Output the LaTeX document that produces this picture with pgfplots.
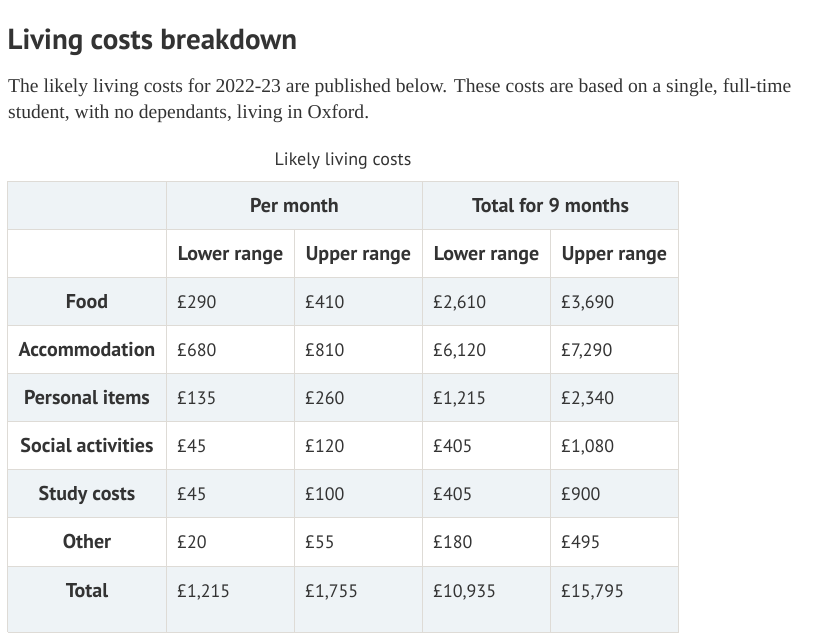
\documentclass[border=0pt]{standalone}
\usepackage{fontspec}
\setmainfont{PT Sans}
\newfontfamily\serif{Liberation Serif}
\usepackage{pgfplots}
\usepackage{pgfplotstable}
\pgfplotsset{compat=1.18}
\definecolor{ink}{HTML}{333333}
\definecolor{shade}{HTML}{EEF3F6}
\definecolor{rule}{HTML}{DEDBD6}
\newcommand\cellfont{\fontsize{18bp}{22bp}\selectfont}
\newcommand\headfont{\fontsize{20bp}{24bp}\selectfont\bfseries}

% per-month and 9-month figures, one row per cost line (y = text baseline)
\pgfplotstableread{
y     pml   pmu   tl     tu
308   290   410   2610   3690
356   680   810   6120   7290
404   135   260   1215   2340
452   45    120   405    1080
500.5 45    100   405    900
548.5 20    55    180    495
597.5 1215  1755  10935  15795
}\costs

\pgfplotstableread{
x     y     label
87    308   Food
87    356   Accommodation
87    404   {Personal items}
87    452   {Social activities}
87    500.5 {Study costs}
87    548.5 Other
87    597.5 Total
294.5 212   {Per month}
550.5 212   {Total for 9 months}
230.5 260   {Lower range}
358.5 260   {Upper range}
486.5 260   {Lower range}
614.5 260   {Upper range}
}\heads

\begin{document}
\begin{tikzpicture}
\begin{axis}[
    scale only axis, width=821bp, height=633bp,
    xmin=0, xmax=821, ymin=0, ymax=633, y dir=reverse,
    axis lines=none, clip=false,
    cell/.style={fill=shade, draw=none, mark=none},
    gridline/.style={draw=rule, line width=1bp, mark=none},
    money/.style={draw=none, mark=none, point meta=explicit,
        nodes near coords={£\pgfmathprintnumber{\pgfplotspointmeta}},
        every node near coord/.append style={anchor=base west, inner sep=0pt,
            text=ink, font=\cellfont}},
    /pgf/number format/.cd, fixed, precision=0, 1000 sep={,}, assume math mode=true,
]
\path (axis cs:0,0) rectangle (axis cs:821,633);

% shaded cells
\addplot[cell] coordinates {(7.5,181) (678.5,181) (678.5,229) (7.5,229)};
\addplot[cell] coordinates {(7.5,277) (678.5,277) (678.5,325) (7.5,325)};
\addplot[cell] coordinates {(7.5,373) (678.5,373) (678.5,421) (7.5,421)};
\addplot[cell] coordinates {(7.5,469.5) (678.5,469.5) (678.5,517.5) (7.5,517.5)};
\addplot[cell] coordinates {(7.5,566.5) (678.5,566.5) (678.5,632) (7.5,632)};

% rules
\addplot[gridline] coordinates {(7.5,181) (678.5,181)};
\addplot[gridline] coordinates {(7.5,229) (678.5,229)};
\addplot[gridline] coordinates {(7.5,277) (678.5,277)};
\addplot[gridline] coordinates {(7.5,325) (678.5,325)};
\addplot[gridline] coordinates {(7.5,373) (678.5,373)};
\addplot[gridline] coordinates {(7.5,421) (678.5,421)};
\addplot[gridline] coordinates {(7.5,469.5) (678.5,469.5)};
\addplot[gridline] coordinates {(7.5,517.5) (678.5,517.5)};
\addplot[gridline] coordinates {(7.5,566.5) (678.5,566.5)};
\addplot[gridline] coordinates {(7.5,632) (678.5,632)};
\addplot[gridline] coordinates {(7.5,181) (7.5,632)};
\addplot[gridline] coordinates {(166.5,181) (166.5,632)};
\addplot[gridline] coordinates {(294.5,229) (294.5,632)};
\addplot[gridline] coordinates {(422.5,181) (422.5,632)};
\addplot[gridline] coordinates {(550.5,229) (550.5,632)};
\addplot[gridline] coordinates {(678.5,181) (678.5,632)};

% headers and row labels
\addplot[draw=none, mark=none, point meta=explicit symbolic,
    nodes near coords,
    every node near coord/.append style={anchor=base, inner sep=0pt,
        text=ink, font=\headfont}]
    table[x=x, y=y, meta=label] {\heads};

% values
\addplot[money] table[x expr=177, y=y, meta=pml] {\costs};
\addplot[money] table[x expr=305, y=y, meta=pmu] {\costs};
\addplot[money] table[x expr=433, y=y, meta=tl] {\costs};
\addplot[money] table[x expr=561, y=y, meta=tu] {\costs};

% title, intro text and caption
\node[anchor=base west, inner sep=0pt, text=ink,
      font=\fontsize{29bp}{33bp}\selectfont\bfseries] at (axis cs:7.5,50) {Living costs breakdown};
\node[anchor=base west, inner sep=0pt, text=ink,
      font=\serif\fontsize{19.6bp}{26bp}\selectfont] at (axis cs:8,92)
      {The likely living costs for 2022-23 are published below. These costs are based on a single, full-time};
\node[anchor=base west, inner sep=0pt, text=ink,
      font=\serif\fontsize{19.6bp}{26bp}\selectfont] at (axis cs:8,118)
      {student, with no dependants, living in Oxford.};
\node[anchor=base, inner sep=0pt, text=ink,
      font=\fontsize{18bp}{22bp}\selectfont] at (axis cs:343,165) {Likely living costs};
\end{axis}
\end{tikzpicture}
\end{document}
